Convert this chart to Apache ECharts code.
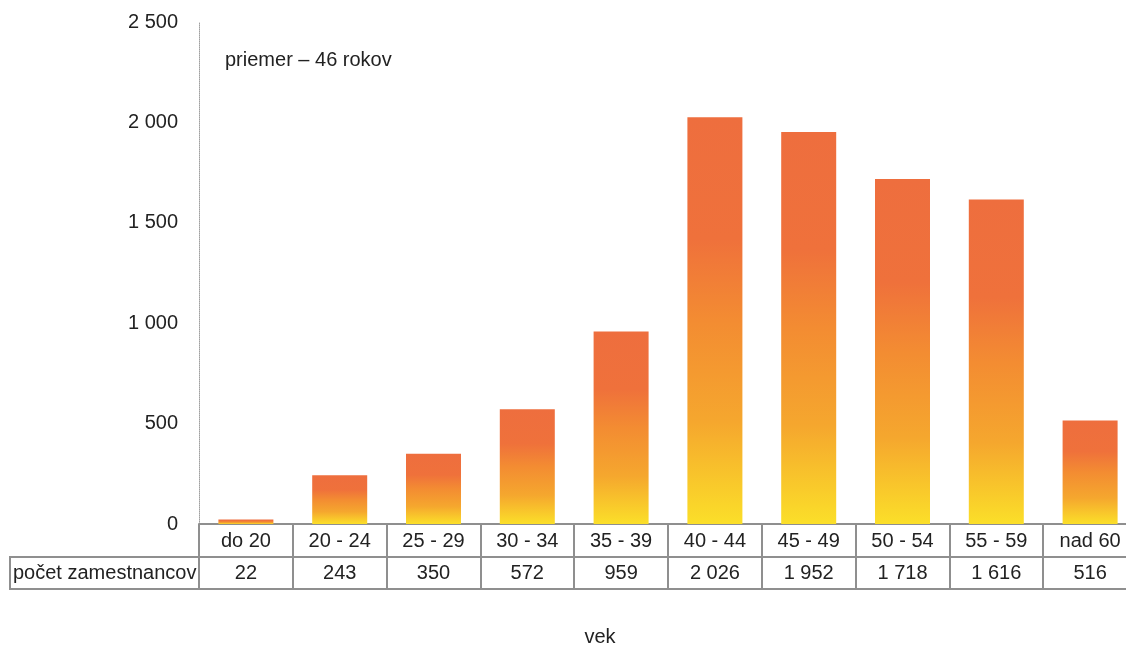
<!DOCTYPE html>
<html>
<head>
<meta charset="utf-8">
<script src="https://cdn.jsdelivr.net/npm/echarts@6/dist/echarts.min.js"></script>
<style>
    html, body { margin: 0; padding: 0; background: #fff; }
    #chartDiv { width: 1126px; height: 648px; }
</style>
</head>
<body>
<div id="chartDiv"></div>
<script>
var categories = ['do 20', '20 - 24', '25 - 29', '30 - 34', '35 - 39', '40 - 44', '45 - 49', '50 - 54', '55 - 59', 'nad 60'];
var employees = [22, 243, 350, 572, 959, 2026, 1952, 1718, 1616, 516];
var yTicks = [0, 500, 1000, 1500, 2000, 2500];

var rowLabel = 'počet zamestnancov';
var axisTitle = 'vek';
var noteText = 'priemer – 46 rokov';

var FONT = '"Liberation Sans Narrow", "Arial Narrow", sans-serif';
var GRID = '#8f8f8f';

function fmt(n) {
    return String(n).replace(/\B(?=(\d{3})+(?!\d))/g, ' ');
}

var myChart = echarts.init(document.getElementById('chartDiv'));

// gradient is per bar: orange top, yellow bottom
var barColor = new echarts.graphic.LinearGradient(0, 0, 0, 1, [
    {offset: 0, color: '#ee6e3e'},
    {offset: 0.3, color: '#ef713b'},
    {offset: 0.5, color: '#f38c32'},
    {offset: 0.75, color: '#f5a72e'},
    {offset: 1, color: '#fbdf29'}
]);

myChart.setOption({
    animation: false,
    textStyle: {fontFamily: FONT},
    title: {
        text: noteText,
        left: 220,
        top: 45,
        textStyle: {fontFamily: FONT, fontSize: 20, fontWeight: 'normal', color: '#222'}
    },
    // table runs a bit past the right edge, like the original
    grid: {left: 199, top: 22, width: 938, height: 502, outerBoundsMode: 'none', containLabel: false},
    xAxis: [
        {
            type: 'category',
            data: categories,
            position: 'bottom',
            axisLine: {show: true, lineStyle: {color: GRID, width: 2}},
            axisTick: {show: true, interval: 0, length: 65, lineStyle: {color: GRID, width: 2}},
            axisLabel: {interval: 0, margin: 7, fontSize: 20, color: '#222', fontFamily: FONT}
        },
        {
            type: 'category',
            data: employees.map(fmt),
            position: 'bottom',
            offset: 33,
            axisLine: {show: true, lineStyle: {color: GRID, width: 2}},
            axisTick: {show: false},
            axisLabel: {interval: 0, margin: 6, fontSize: 20, color: '#222', fontFamily: FONT}
        },
        {
            type: 'category',
            data: categories,
            position: 'bottom',
            offset: 65,
            axisLine: {show: true, lineStyle: {color: GRID, width: 2}},
            axisTick: {show: false},
            axisLabel: {show: false}
        }
    ],
    yAxis: {
        type: 'value',
        min: yTicks[0],
        max: yTicks[yTicks.length - 1],
        interval: 500,
        axisLine: {show: true, lineStyle: {color: '#a0a0a0', type: [1, 1], width: 1}},
        axisTick: {show: false},
        splitLine: {show: false},
        axisLabel: {
            margin: 21,
            fontSize: 20,
            color: '#222',
            fontFamily: FONT,
            formatter: function (v) { return fmt(v); }
        }
    },
    graphic: [
        {
            type: 'rect',
            shape: {x: 10, y: 557, width: 189, height: 32},
            style: {fill: 'none', stroke: GRID, lineWidth: 2}
        },
        {
            type: 'text',
            x: 13,
            y: 573,
            style: {text: rowLabel, fontSize: 20, fontFamily: FONT, fill: '#222', verticalAlign: 'middle'}
        },
        {
            type: 'text',
            x: 600,
            y: 637,
            style: {text: axisTitle, fontSize: 20, fontFamily: FONT, fill: '#222', align: 'center', verticalAlign: 'middle'}
        }
    ],
    series: [
        {
            type: 'bar',
            data: employees,
            barWidth: 55,
            itemStyle: {color: barColor}
        }
    ]
});
</script>
</body>
</html>
